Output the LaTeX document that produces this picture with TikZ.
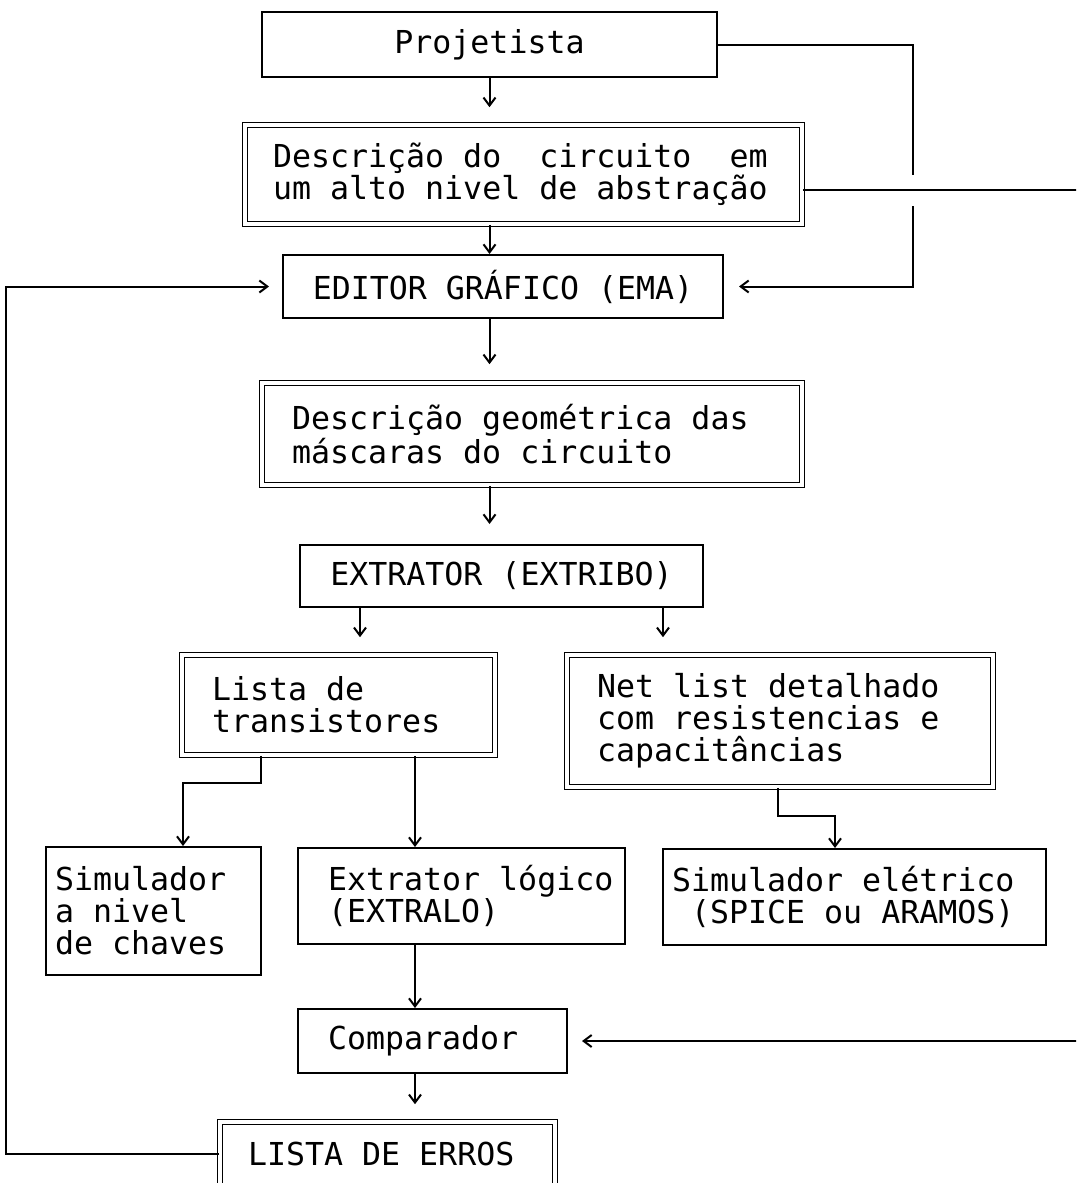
\documentclass[tikz,border=0pt]{standalone}
\usepackage{fontspec}
\setmonofont{DejaVu Sans Mono}
\usetikzlibrary{arrows.meta}
\newcommand{\monofix}{\spaceskip=\fontcharwd\font`x\relax\xspaceskip=\fontcharwd\font`x\relax}
\begin{document}
\begin{tikzpicture}[x=0.5pt,y=-0.5pt,
  box/.style={draw, line width=1pt, inner sep=0pt, font=\ttfamily\fontsize{15.8pt}{16pt}\selectfont, execute at begin node=\monofix},
  dbox/.style={box, double, double distance=1.6pt, line width=0.8pt},
  conn/.style={line width=1pt},
  arr/.style={conn, -{Straight Barb[length=4pt,width=6pt]}},
]
\useasboundingbox (0,0) rectangle (1076,1183);
\fill[white] (0,0) rectangle (1076,1183);
\clip (0,0) rectangle (1076,1183);

\node[box, minimum width=227.5pt, minimum height=32.5pt] (proj) at (489.5,44.5) {Projetista};
\node[dbox, minimum width=278.5pt, minimum height=49.5pt, text width=250.5pt, align=left] (desc) at (523.5,174.5) {Descrição do~~circuito~~em\\um alto nivel de abstração};
\node[box, minimum width=220pt, minimum height=31.5pt] (editor) at (503,286.5) {EDITOR GRÁFICO (EMA)};
\node[dbox, minimum width=270pt, minimum height=51pt, text width=240pt, align=left] (geo) at (532,434) {Descrição geométrica das\\máscaras do circuito};
\node[box, minimum width=201.5pt, minimum height=31pt] (extr) at (501.5,576) {EXTRATOR (EXTRIBO)};
\node[dbox, minimum width=156.5pt, minimum height=50pt, text width=126.5pt, align=left] (lista) at (338.5,705) {Lista de\\transistores};
\node[dbox, minimum width=213pt, minimum height=66pt, text width=183pt, align=left] (net) at (780,721) {Net list detalhado\\com resistencias e\\capacitâncias};
\node[box, minimum width=107.5pt, minimum height=64pt, text width=98.5pt, align=left] (sim) at (153.5,911) {Simulador\\a nivel\\de chaves};
\node[box, minimum width=163.5pt, minimum height=48pt, text width=133.5pt, align=left] (extl) at (461.5,896) {Extrator~lógico\\(EXTRALO)};
\node[box, minimum width=191.5pt, minimum height=48pt, text width=182.5pt, align=left] (simel) at (854.5,897) {Simulador elétrico\\\hphantom{x}(SPICE ou ARAMOS)};
\node[box, minimum width=134.5pt, minimum height=32pt, text width=104.5pt, align=left] (comp) at (432.5,1041) {Comparador};
\node[dbox, minimum width=167.5pt, minimum height=32pt, text width=139.5pt, align=left] (erros) at (387.5,1154) {LISTA DE ERROS};

% main column
\draw[arr, shorten >=8.5pt] (proj.south) -- (proj.south |- desc.north);
\draw[arr] (desc.south -| proj.south) -- (editor.north -| proj.south);
\draw[arr, shorten >=9pt] (editor.south -| proj.south) -- (geo.north -| proj.south);
\draw[arr, shorten >=10pt] (geo.south -| proj.south) -- (extr.north -| proj.south);

\coordinate (xL) at (360,0);
\coordinate (xR) at (663,0);
\coordinate (xM) at (415,0);
\draw[arr, shorten >=8.5pt] (extr.south -| xL) -- (lista.north -| xL);
\draw[arr, shorten >=8.5pt] (extr.south -| xR) -- (net.north -| xR);

\coordinate (b1) at (261,783);
\coordinate (b2) at (183,783);
\draw[arr] (lista.south -| b1) -- (b1) -- (b2) -- (sim.north -| b2);
\draw[arr] (lista.south -| xM) -- (extl.north -| xM);

\coordinate (n1) at (778,816);
\coordinate (n2) at (835,816);
\draw[arr] (net.south -| n1) -- (n1) -- (n2) -- (simel.north -| n2);

\draw[arr] (extl.south -| xM) -- (comp.north -| xM);
\draw[arr, shorten >=8.5pt] (comp.south -| xM) -- (erros.north -| xM);

% feedback lines
\coordinate (hopA) at (913,175);
\coordinate (hopB) at (913,206);
\draw[conn] (proj.east) -- (proj.east -| hopA) -- (hopA);
\draw[arr, shorten >=7.5pt] (hopB) -- (editor.east -| hopB) -- (editor.east);

\coordinate (r1) at (1090,190);
\draw[arr, shorten >=7pt] (r1 -| desc.east) -- (r1) -- (comp.east -| r1) -- (comp.east);

\coordinate (l1) at (6,0);
\draw[arr, shorten >=6.5pt] (erros.west) -- (erros.west -| l1) -- (editor.west -| l1) -- (editor.west);
\end{tikzpicture}
\end{document}
